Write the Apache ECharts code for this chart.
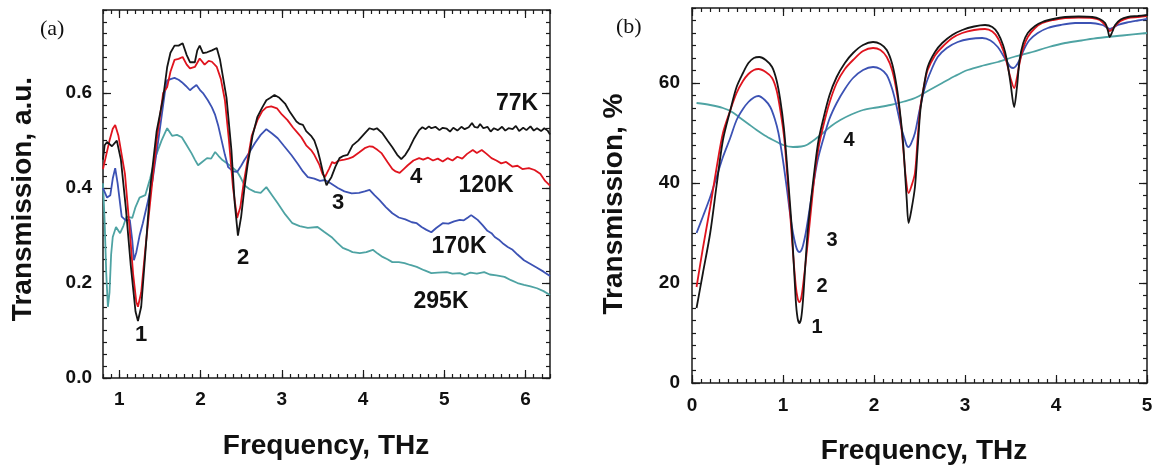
<!DOCTYPE html>
<html>
<head>
<meta charset="utf-8">
<title>Transmission spectra</title>
<script src="https://cdn.jsdelivr.net/npm/echarts@6/dist/echarts.min.js"></script>
<style>
  html, body { margin: 0; padding: 0; background: #fff; }
  #chart { width: 1156px; height: 466px; }
</style>
</head>
<body>
<div id="chart"></div>
<script>
// panel (a) - measured spectra, [THz, a.u.]
const ticksXa = [1, 2, 3, 4, 5, 6]
const ticksYa = [0, 0.2, 0.4, 0.6]

const t77K = [[0.80,0.46],[0.82,0.49],[0.85,0.497],[0.91,0.488],[0.97,0.50],[1.02,0.46],[1.08,0.36],[1.14,0.24],[1.20,0.14],[1.23,0.12],[1.27,0.15],[1.32,0.26],[1.38,0.40],[1.46,0.52],[1.54,0.59],[1.59,0.655],[1.63,0.685],[1.68,0.70],[1.73,0.70],[1.78,0.705],[1.83,0.68],[1.87,0.665],[1.93,0.665],[1.96,0.69],[1.99,0.70],[2.03,0.684],[2.08,0.686],[2.14,0.69],[2.20,0.695],[2.24,0.67],[2.28,0.63],[2.32,0.59],[2.38,0.48],[2.42,0.37],[2.46,0.30],[2.50,0.34],[2.54,0.40],[2.58,0.45],[2.64,0.51],[2.70,0.55],[2.76,0.57],[2.81,0.585],[2.86,0.59],[2.91,0.596],[2.97,0.59],[3.04,0.578],[3.10,0.56],[3.14,0.55],[3.18,0.54],[3.22,0.535],[3.26,0.533],[3.30,0.52],[3.36,0.51],[3.40,0.50],[3.44,0.48],[3.47,0.46],[3.51,0.43],[3.55,0.406],[3.58,0.415],[3.61,0.423],[3.66,0.445],[3.71,0.463],[3.76,0.468],[3.81,0.47],[3.87,0.49],[3.94,0.50],[4.02,0.515],[4.08,0.526],[4.13,0.523],[4.17,0.526],[4.24,0.515],[4.30,0.50],[4.36,0.486],[4.42,0.47],[4.47,0.461],[4.52,0.47],[4.57,0.484],[4.63,0.505],[4.69,0.522],[4.73,0.528],[4.77,0.524],[4.81,0.53],[4.84,0.526],[4.89,0.529],[4.94,0.522],[4.98,0.527],[5.03,0.525],[5.07,0.519],[5.11,0.527],[5.16,0.521],[5.21,0.529],[5.25,0.524],[5.30,0.528],[5.34,0.537],[5.37,0.529],[5.41,0.527],[5.44,0.535],[5.48,0.526],[5.53,0.529],[5.57,0.519],[5.61,0.526],[5.66,0.522],[5.71,0.529],[5.75,0.521],[5.79,0.526],[5.84,0.524],[5.88,0.531],[5.92,0.52],[5.97,0.527],[6.01,0.522],[6.06,0.53],[6.10,0.521],[6.14,0.526],[6.19,0.52],[6.23,0.526],[6.27,0.521],[6.30,0.513]]

const t120K = [[0.80,0.44],[0.84,0.47],[0.88,0.50],[0.92,0.525],[0.95,0.533],[0.99,0.51],[1.03,0.47],[1.07,0.43],[1.12,0.33],[1.17,0.22],[1.21,0.16],[1.23,0.15],[1.27,0.18],[1.32,0.27],[1.38,0.37],[1.46,0.50],[1.54,0.60],[1.59,0.613],[1.63,0.645],[1.68,0.67],[1.73,0.672],[1.78,0.676],[1.83,0.66],[1.87,0.652],[1.93,0.655],[1.99,0.673],[2.05,0.66],[2.10,0.668],[2.14,0.666],[2.20,0.655],[2.25,0.63],[2.30,0.585],[2.35,0.50],[2.40,0.40],[2.45,0.337],[2.49,0.36],[2.53,0.41],[2.57,0.45],[2.63,0.51],[2.70,0.543],[2.76,0.562],[2.81,0.57],[2.87,0.572],[2.94,0.568],[3.00,0.555],[3.07,0.543],[3.14,0.527],[3.20,0.515],[3.24,0.507],[3.30,0.49],[3.36,0.48],[3.40,0.47],[3.46,0.45],[3.50,0.43],[3.53,0.423],[3.58,0.44],[3.62,0.455],[3.65,0.452],[3.70,0.458],[3.77,0.46],[3.82,0.462],[3.87,0.465],[3.95,0.475],[4.02,0.484],[4.08,0.488],[4.12,0.487],[4.18,0.48],[4.23,0.473],[4.30,0.455],[4.36,0.44],[4.40,0.435],[4.45,0.432],[4.50,0.44],[4.55,0.448],[4.62,0.458],[4.69,0.463],[4.74,0.46],[4.80,0.464],[4.86,0.458],[4.92,0.462],[4.98,0.456],[5.04,0.463],[5.10,0.458],[5.16,0.466],[5.22,0.462],[5.28,0.472],[5.35,0.48],[5.40,0.474],[5.46,0.48],[5.52,0.472],[5.58,0.463],[5.64,0.458],[5.70,0.452],[5.76,0.455],[5.84,0.445],[5.90,0.447],[5.96,0.44],[6.04,0.442],[6.11,0.438],[6.18,0.43],[6.24,0.415],[6.30,0.405]]

const t170K = [[0.80,0.40],[0.85,0.38],[0.89,0.385],[0.92,0.42],[0.95,0.442],[0.98,0.41],[1.03,0.34],[1.08,0.332],[1.13,0.333],[1.16,0.29],[1.18,0.248],[1.21,0.265],[1.25,0.30],[1.29,0.326],[1.35,0.37],[1.41,0.417],[1.48,0.50],[1.56,0.60],[1.59,0.627],[1.64,0.63],[1.68,0.632],[1.73,0.628],[1.77,0.623],[1.82,0.615],[1.87,0.606],[1.91,0.612],[1.95,0.617],[2.00,0.605],[2.03,0.60],[2.09,0.585],[2.14,0.57],[2.18,0.554],[2.22,0.53],[2.26,0.50],[2.30,0.47],[2.34,0.444],[2.40,0.435],[2.45,0.434],[2.50,0.447],[2.54,0.459],[2.60,0.475],[2.67,0.495],[2.74,0.512],[2.81,0.524],[2.88,0.515],[2.95,0.505],[3.03,0.488],[3.12,0.469],[3.20,0.45],[3.26,0.435],[3.32,0.423],[3.40,0.42],[3.47,0.415],[3.53,0.417],[3.60,0.41],[3.69,0.40],[3.77,0.393],[3.86,0.389],[3.95,0.39],[4.02,0.393],[4.08,0.396],[4.14,0.385],[4.20,0.375],[4.28,0.36],[4.36,0.347],[4.44,0.338],[4.52,0.334],[4.60,0.328],[4.66,0.326],[4.72,0.318],[4.78,0.312],[4.84,0.307],[4.90,0.316],[4.98,0.326],[5.05,0.325],[5.12,0.33],[5.19,0.333],[5.24,0.332],[5.29,0.338],[5.33,0.343],[5.37,0.338],[5.41,0.333],[5.47,0.322],[5.53,0.31],[5.58,0.305],[5.62,0.297],[5.68,0.29],[5.73,0.282],[5.78,0.276],[5.84,0.27],[5.90,0.26],[5.98,0.248],[6.06,0.24],[6.14,0.232],[6.22,0.224],[6.30,0.215]]

const t295K = [[0.80,0.41],[0.82,0.33],[0.84,0.22],[0.86,0.15],[0.88,0.18],[0.90,0.26],[0.92,0.297],[0.96,0.318],[1.01,0.305],[1.05,0.32],[1.09,0.34],[1.16,0.337],[1.20,0.36],[1.25,0.38],[1.32,0.385],[1.38,0.42],[1.44,0.463],[1.52,0.50],[1.56,0.515],[1.59,0.526],[1.65,0.51],[1.71,0.512],[1.77,0.507],[1.83,0.49],[1.89,0.473],[1.93,0.46],[1.97,0.448],[2.02,0.455],[2.08,0.463],[2.13,0.462],[2.18,0.476],[2.22,0.468],[2.27,0.459],[2.32,0.453],[2.38,0.445],[2.45,0.435],[2.50,0.42],[2.54,0.406],[2.60,0.398],[2.67,0.392],[2.74,0.39],[2.81,0.402],[2.88,0.385],[2.95,0.368],[3.04,0.345],[3.13,0.326],[3.22,0.32],[3.32,0.316],[3.44,0.318],[3.52,0.308],[3.61,0.297],[3.68,0.285],[3.75,0.274],[3.81,0.27],[3.87,0.265],[3.96,0.263],[4.04,0.265],[4.12,0.27],[4.18,0.262],[4.24,0.255],[4.30,0.25],[4.36,0.244],[4.44,0.244],[4.51,0.242],[4.58,0.238],[4.66,0.234],[4.75,0.227],[4.84,0.221],[4.92,0.222],[5.03,0.223],[5.10,0.22],[5.19,0.221],[5.25,0.217],[5.32,0.222],[5.40,0.22],[5.49,0.223],[5.56,0.218],[5.64,0.216],[5.74,0.213],[5.82,0.206],[5.90,0.2],[5.98,0.196],[6.06,0.193],[6.14,0.189],[6.22,0.183],[6.30,0.175]]

// panel (b) - calculated curves 1..4, [THz, %]
const ticksXb = [0, 1, 2, 3, 4, 5]
const ticksYb = [0, 20, 40, 60]

const curve1 = [[0.05,15],[0.12,22],[0.2,30],[0.27,39.5],[0.34,48.6],[0.42,54.5],[0.49,59.2],[0.56,62],[0.62,64],[0.68,65],[0.74,65.2],[0.81,64.6],[0.88,63.2],[0.93,60.5],[0.97,56.6],[1.01,51],[1.04,44.6],[1.07,37.5],[1.10,30],[1.14,16.6],[1.16,13],[1.18,12],[1.20,13],[1.22,16.6],[1.27,30],[1.31,37],[1.35,43.2],[1.39,48.5],[1.44,52.6],[1.51,57.5],[1.59,61.2],[1.68,64],[1.77,66],[1.88,67.6],[1.99,68.2],[2.07,67.8],[2.14,66.6],[2.20,63.8],[2.25,59.2],[2.29,53.5],[2.32,48],[2.36,36.6],[2.38,32],[2.41,34.5],[2.45,39.2],[2.48,47],[2.51,54.6],[2.55,59.5],[2.59,63.2],[2.67,66.2],[2.75,68],[2.86,69.6],[2.97,70.6],[3.10,71.3],[3.22,71.6],[3.30,71.2],[3.36,70],[3.42,67.5],[3.46,64.6],[3.50,60],[3.54,55.2],[3.57,59],[3.60,64.6],[3.64,68],[3.69,70],[3.77,71.4],[3.85,72.2],[3.97,72.8],[4.10,73.2],[4.25,73.3],[4.40,73.2],[4.48,72.8],[4.54,72],[4.57,70.5],[4.59,69.2],[4.62,70.3],[4.65,71.6],[4.71,72.7],[4.79,73.2],[4.90,73.4],[5.0,73.6]]

const curve2 = [[0.05,19.2],[0.12,27],[0.2,35.2],[0.27,43],[0.34,50],[0.42,54.5],[0.49,58],[0.56,60.4],[0.62,61.8],[0.68,62.6],[0.73,62.8],[0.81,62.2],[0.88,61],[0.93,58.5],[0.97,54.6],[1.01,49.5],[1.04,43.2],[1.08,33.5],[1.11,26],[1.14,19.5],[1.16,17],[1.18,16.2],[1.20,17],[1.22,19.5],[1.26,26],[1.31,35],[1.35,42],[1.39,47],[1.44,51.2],[1.51,56],[1.59,60],[1.68,62.8],[1.77,64.6],[1.88,66.4],[1.99,67],[2.07,66.6],[2.14,65.2],[2.20,62.5],[2.25,58.2],[2.29,53],[2.32,47.2],[2.35,41],[2.38,38],[2.41,39.3],[2.45,42],[2.48,49],[2.51,55.2],[2.55,59.5],[2.59,62.6],[2.67,65.5],[2.75,67.2],[2.86,69],[2.97,70],[3.10,70.6],[3.22,70.8],[3.30,70.3],[3.36,69],[3.42,66.5],[3.46,64],[3.50,61],[3.54,59],[3.57,61],[3.60,64],[3.64,67],[3.69,69.2],[3.77,71],[3.85,72],[3.97,72.6],[4.10,73],[4.25,73.1],[4.40,73],[4.48,72.6],[4.54,71.6],[4.57,70.8],[4.59,70.4],[4.62,70.8],[4.65,71.4],[4.71,72.4],[4.79,73],[4.90,73.2],[5.0,73.4]]

const curve3 = [[0.05,30],[0.12,33.3],[0.2,37.2],[0.27,41.2],[0.34,45.2],[0.42,49],[0.49,52.6],[0.56,54.8],[0.62,56.2],[0.68,57.1],[0.73,57.4],[0.80,56.6],[0.86,55.2],[0.91,52.8],[0.95,50],[1.00,44.5],[1.04,39.2],[1.08,33.5],[1.11,30],[1.14,27.5],[1.16,26.5],[1.18,26.2],[1.20,26.5],[1.22,27.5],[1.25,30],[1.29,34.5],[1.33,39.2],[1.38,44.5],[1.44,48.6],[1.51,52.8],[1.59,56],[1.68,58.8],[1.77,61],[1.88,62.6],[1.99,63.2],[2.07,62.8],[2.14,61.6],[2.20,58.8],[2.25,55.2],[2.30,51],[2.34,48.6],[2.36,47.5],[2.38,47.2],[2.41,48],[2.45,50],[2.50,54.5],[2.56,59.2],[2.63,62.6],[2.70,65.2],[2.80,67],[2.92,68.2],[3.05,68.8],[3.19,69],[3.28,68.5],[3.36,67.2],[3.42,65.5],[3.47,64],[3.50,63.2],[3.53,63],[3.56,63.4],[3.60,64.6],[3.65,66.8],[3.71,68.6],[3.80,70],[3.91,71],[4.05,71.6],[4.21,72],[4.38,72],[4.51,71.6],[4.56,71.1],[4.59,70.8],[4.63,71.1],[4.68,71.6],[4.78,72.1],[4.90,72.5],[5.0,72.8]]

const curve4 = [[0.05,56],[0.2,55.6],[0.34,55],[0.44,54.2],[0.53,53],[0.62,51.8],[0.71,50.6],[0.80,49.5],[0.89,48.6],[1.00,47.6],[1.11,47.2],[1.20,47.3],[1.26,47.6],[1.35,48.7],[1.44,50],[1.53,51.4],[1.63,52.6],[1.75,53.7],[1.88,54.6],[2.03,55.1],[2.18,55.6],[2.33,56.3],[2.45,57],[2.60,58.5],[2.75,60],[2.89,61.4],[3.03,62.6],[3.20,63.5],[3.36,64.2],[3.55,65.3],[3.74,66.2],[3.92,67.2],[4.10,68],[4.28,68.5],[4.46,69],[4.73,69.5],[5.0,70]]

const colors = { k: '#151515', r: '#e0141e', b: '#3c52b4', t: '#4ea3a3' }
const frameColor = '#1a1a1a'
const sans = 'Liberation Sans, Arial, sans-serif'

// evenly spaced minor tick positions
const minorTicks = (min, max, step) => {
  const out = []
  for (let v = min; v <= max + 1e-9; v += step) out.push(+v.toFixed(4))
  return out
}

// 4 axes per dimension: main/minor ticks on both sides, to draw a closed frame
const buildAxes = (grid, dim, min, max, major, minor, fmt, margin) => {
  const sides = dim === 'x' ? ['bottom', 'top'] : ['left', 'right']
  const list = []
  sides.forEach((pos, i) => {
    [major, minor].forEach((vals, j) => {
      list.push({
        type: 'value', gridIndex: grid, position: pos, min, max,
        axisLine: { show: j === 0, onZero: false, lineStyle: { color: frameColor, width: 1.5 } },
        axisTick: { show: true, inside: true, customValues: vals, length: j === 0 ? 8 : 4,
          lineStyle: { color: frameColor, width: 1.2 } },
        axisLabel: { show: i === 0 && j === 0, customValues: major, formatter: fmt, margin,
          fontFamily: sans, fontWeight: 'bold', fontSize: 19, color: '#111' },
        splitLine: { show: false }
      })
    })
  })
  return list
}

const line = (data, color, xi, yi, smooth) => ({
  type: 'line', data, xAxisIndex: xi, yAxisIndex: yi, smooth,
  showSymbol: false, lineStyle: { color, width: 1.8 }, emphasis: { disabled: true }
})

const txt = (text, x, y, size, extra) => Object.assign({
  type: 'text', x, y,
  style: { text, font: 'bold ' + size + 'px ' + sans, fill: '#111',
    align: 'center', verticalAlign: 'middle', textAlign: 'center', textVerticalAlign: 'middle' }
}, extra || {})

const chart = echarts.init(document.getElementById('chart'))

chart.setOption({
  animation: false,
  backgroundColor: '#fff',
  grid: [
    { left: 103, top: 10, width: 447, height: 368 },
    { left: 692, top: 8, width: 455, height: 375 }
  ],
  xAxis: [
    ...buildAxes(0, 'x', 0.8, 6.3, ticksXa, minorTicks(0.8, 6.3, 0.1), v => String(v), 12),
    ...buildAxes(1, 'x', 0, 5, ticksXb, minorTicks(0, 5, 0.1), v => String(v), 13)
  ],
  yAxis: [
    ...buildAxes(0, 'y', 0, 0.775, ticksYa, minorTicks(0, 0.775, 0.025), v => v.toFixed(1), 11),
    ...buildAxes(1, 'y', 0, 75, ticksYb, minorTicks(0, 75, 2.5), v => String(v), 12)
  ],
  series: [
    line(t295K, colors.t, 0, 0, false),
    line(t170K, colors.b, 0, 0, false),
    line(t120K, colors.r, 0, 0, false),
    line(t77K, colors.k, 0, 0, false),
    line(curve4, colors.t, 4, 4, 0.3),
    line(curve3, colors.b, 4, 4, 0.3),
    line(curve2, colors.r, 4, 4, 0.3),
    line(curve1, colors.k, 4, 4, 0.3)
  ],
  graphic: [
    { type: 'text', x: 40, y: 18, style: { text: '(a)', font: '22px Liberation Serif, Times New Roman, serif', fill: '#111' } },
    { type: 'text', x: 616, y: 16, style: { text: '(b)', font: '22px Liberation Serif, Times New Roman, serif', fill: '#111' } },
    txt('Transmission, a.u.', 23, 199, 28, { rotation: Math.PI / 2 }),
    txt('Transmission, %', 614, 204, 28, { rotation: Math.PI / 2 }),
    txt('Frequency, THz', 326, 446, 28),
    txt('Frequency, THz', 924, 451, 28),
    // panel (a) labels
    txt('1', 141, 335, 22), txt('2', 243, 258, 22), txt('3', 338, 203, 22), txt('4', 416, 177, 22),
    txt('77K', 517, 104, 23), txt('120K', 486, 186, 23), txt('170K', 459, 247, 23), txt('295K', 441, 302, 23),
    // panel (b) labels
    txt('4', 849, 140, 20), txt('3', 832, 240, 20), txt('2', 822, 286, 20), txt('1', 817, 327, 20)
  ]
})
</script>
</body>
</html>
